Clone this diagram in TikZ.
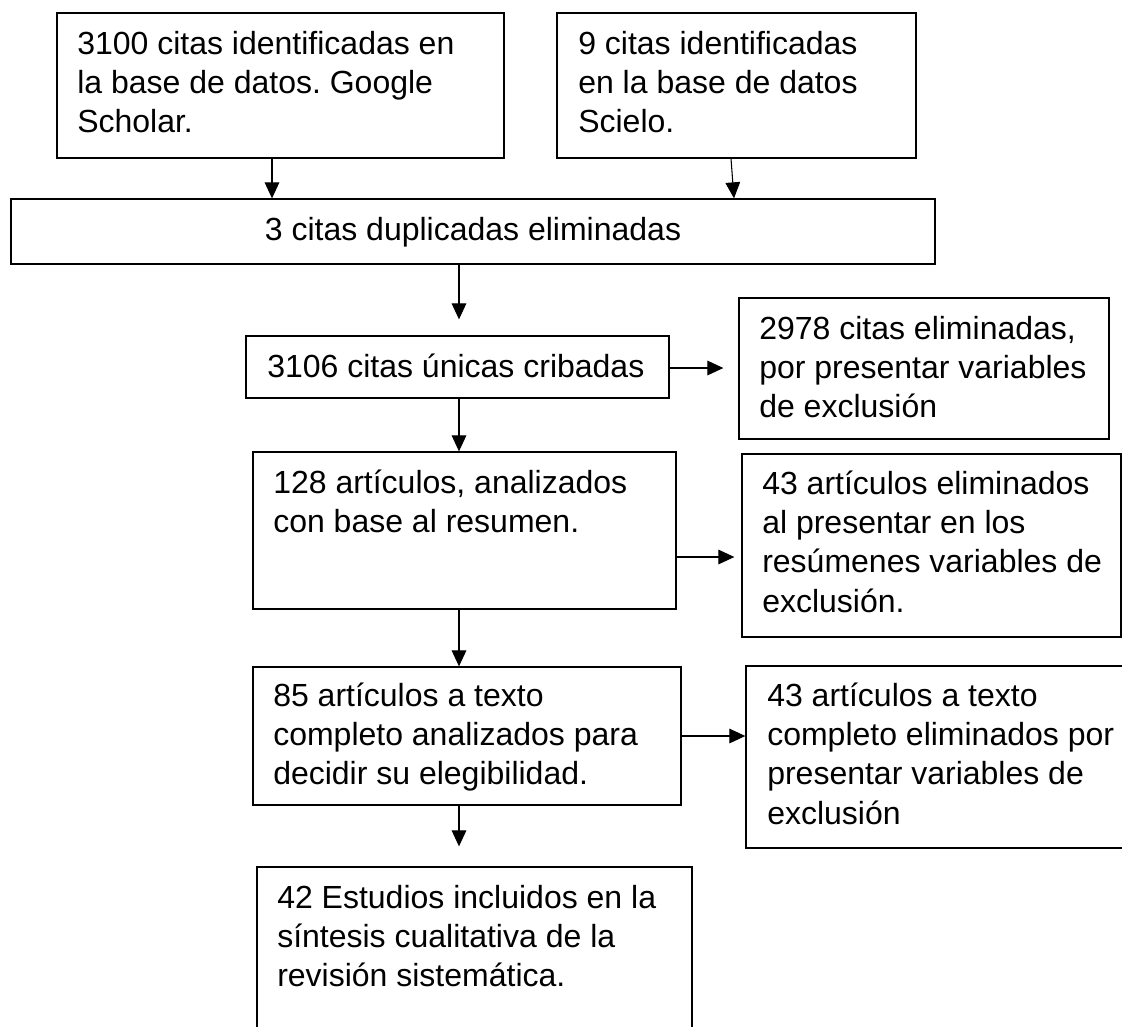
\documentclass[tikz,border=0pt]{standalone}
\usepackage{fontspec}
\setmainfont{Liberation Sans}
\usetikzlibrary{arrows.meta,fit,calc}
\frenchspacing
\tikzset{
  box/.style={draw=black, line width=1pt, inner sep=0pt, rectangle},
  txt/.style={inner sep=0pt, anchor=base west, font=\fontsize{24}{29.6}\selectfont},
  arr/.style={draw=black, line width=0.8pt, -{Triangle[length=12pt,width=11pt]}}
}
\newcommand{\lines}[1]{\parbox[t]{400pt}{\raggedright #1}}
\begin{document}
\begin{tikzpicture}[x=0.75pt,y=-0.75pt]
\useasboundingbox (0,0) rectangle (1122,1026);
\clip (0,0) rectangle (1122,1026);
% boxes
\node[box, fit={(57,13) (504,158)}] (a) {};
\node[box, fit={(557,13) (916,158)}] (b) {};
\node[box, fit={(11,199) (935,264)}] (c) {};
\node[box, fit={(246,336) (669,398)}] (d) {};
\node[box, fit={(739,298) (1109,439)}] (e) {};
\node[box, fit={(253,452) (676,609)}] (f) {};
\node[box, fit={(742,454) (1121,637)}] (g) {};
\node[box, fit={(253,667) (681,805)}] (h) {};
\node[box, fit={(746,666) (1140,848)}] (i) {};
\node[box, fit={(257,867) (692,1045)}] (j) {};
% texts
\node[txt] (ta) at (77,54) {\lines{3100 citas identificadas en\\la base de datos. Google\\Scholar.}};
\node[txt] (tb) at (578,54) {\lines{9 citas identificadas\\en la base de datos\\Scielo.}};
\node[txt, anchor=base] (tc) at (473,240) {3 citas duplicadas eliminadas};
\node[txt] (td) at (267,377) {3106 citas únicas cribadas};
\node[txt] (te) at (759,339) {\lines{2978 citas eliminadas,\\por presentar variables\\de exclusión}};
\node[txt] (tf) at (273,493) {\lines{128 artículos, analizados\\con base al resumen.}};
\node[txt] (tg) at (762,494) {\lines{43 artículos eliminados\\al presentar en los\\resúmenes variables de\\exclusión.}};
\node[txt] (th) at (273,706) {\lines{85 artículos a texto\\completo analizados para\\decidir su elegibilidad.}};
\node[txt] (ti) at (767,706) {\lines{43 artículos a texto\\completo eliminados por\\presentar variables de\\exclusión}};
\node[txt] (tj) at (277,908) {\lines{42 Estudios incluidos en la\\síntesis cualitativa de la\\revisión sistemática.}};
% reference coordinates
\coordinate (xa) at (272,0);
\coordinate (xb1) at (731,0);
\coordinate (xb2) at (734,0);
\coordinate (xm) at (459,0);
\coordinate (ye) at (0,368);
\coordinate (yg) at (0,557);
\coordinate (yi) at (0,736);
% connectors
\draw[arr] (a.south -| xa) -- (c.north -| xa);
\draw[arr] (b.south -| xb1) -- (c.north -| xb2);
\draw[arr, shorten >=12pt] (c.south -| xm) -- (d.north -| xm);
\draw[arr, shorten >=11.25pt] (d.east |- ye) -- (e.west |- ye);
\draw[arr] (d.south -| xm) -- (f.north -| xm);
\draw[arr, shorten >=5.25pt] (f.east |- yg) -- (g.west |- yg);
\draw[arr] (f.south -| xm) -- (h.north -| xm);
\draw[arr] (h.east |- yi) -- (i.west |- yi);
\draw[arr, shorten >=15pt] (h.south -| xm) -- (j.north -| xm);
\end{tikzpicture}
\end{document}
